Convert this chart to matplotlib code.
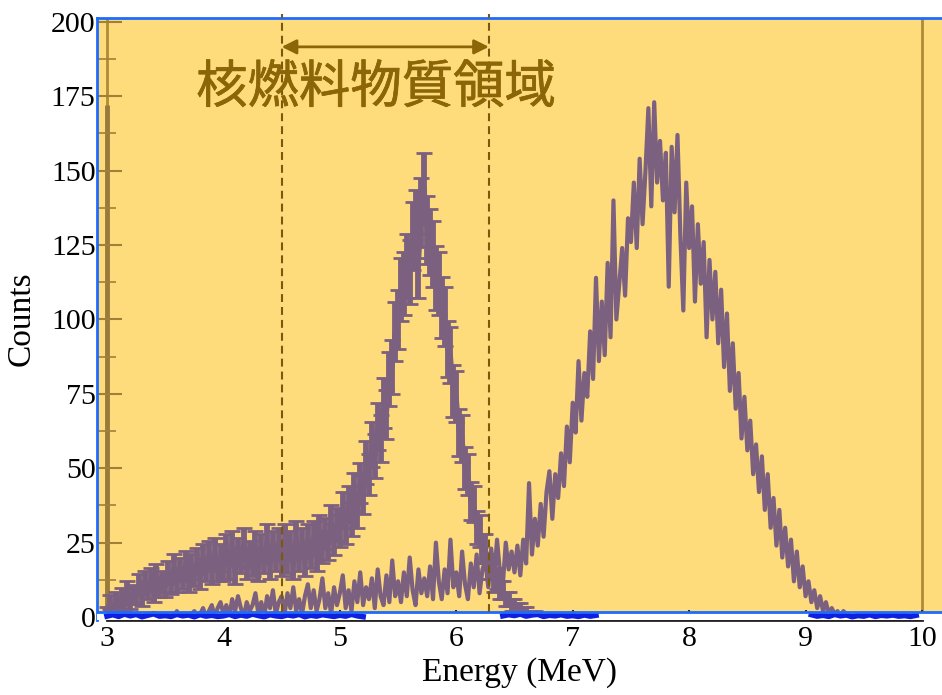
import numpy as np
import matplotlib
matplotlib.use('Agg')
import matplotlib.pyplot as plt
import matplotlib.patheffects as pe
from matplotlib.ticker import MultipleLocator

plt.rcParams['font.family'] = ['Liberation Serif', 'DejaVu Serif']

# spectrum with error bars (step 0.025 MeV from 3.0)
energy_a_start = 3.0
counts_a = [
    2, 5, 1, 6, 3, 7, 4, 9, 5, 8,
    7, 11, 6, 12, 9, 13, 8, 14, 10, 12,
    10, 15, 11, 17, 12, 16, 13, 18, 12, 17,
    14, 19, 13, 20, 16, 21, 15, 22, 16, 20,
    16, 23, 17, 24, 15, 22, 19, 25, 17, 21,
    18, 24, 16, 23, 19, 26, 17, 24, 20, 25,
    18, 26, 19, 24, 17, 27, 20, 25, 18, 26,
    21, 27, 20, 29, 23, 28, 24, 32, 26, 31,
    29, 36, 30, 38, 33, 42, 36, 45, 41, 52,
    48, 58, 54, 64, 60, 72, 68, 80, 84, 96,
    100, 110, 112, 118, 116, 128, 132, 118, 136, 144,
    130, 126, 122, 114, 112, 104, 101, 90, 88, 76,
    74, 62, 60, 50, 48, 39, 38, 30, 29, 23,
    23, 17, 17, 12, 13, 9, 9, 6, 6, 4,
    4, 3, 3, 2, 2, 1, 1, 1, 0.5, 0.5,
    0.5,
]

# second spectrum, plain line (step 0.025 MeV from 3.5)
energy_b_start = 3.5
counts_b = [
    0, 1, 0, 0, 2, 0, 1, 0, 0, 1,
    2, 0, 1, 3, 0, 2, 4, 0, 3, 5,
    1, 4, 0, 6, 2, 7, 3, 0, 5, 2,
    4, 8, 1, 5, 0, 7, 3, 9, 1, 5,
    7, 1, 8, 3, 10, 2, 6, 1, 7, 11,
    3, 9, 2, 6, 13, 3, 8, 1, 10, 4,
    8, 14, 3, 9, 2, 12, 5, 15, 4, 10,
    6, 13, 3, 16, 7, 4, 14, 5, 19, 7,
    12, 5, 15, 7, 20, 9, 4, 16, 8, 13,
    7, 17, 6, 25, 12, 6, 16, 8, 26, 10,
    15, 7, 22, 11, 6, 18, 10, 21, 8, 16,
    19, 10, 23, 13, 26, 15, 11, 25, 16, 22,
    15, 24, 14, 26, 18, 45, 21, 33, 24, 38,
    27, 42, 49, 33, 48, 40, 55, 44, 64, 52,
    72, 62, 86, 66, 82, 74, 96, 80, 114, 86,
    106, 88, 119, 94, 140, 100, 112, 124, 108, 134,
    126, 146, 124, 154, 132, 150, 171, 138, 173, 146,
    160, 140, 156, 111, 158, 136, 162, 128, 103, 146,
    124, 138, 106, 132, 112, 126, 94, 120, 100, 116,
    92, 110, 84, 102, 76, 92, 70, 82, 60, 74,
    56, 66, 48, 58, 42, 54, 36, 48, 30, 40,
    24, 36, 20, 30, 17, 26, 12, 22, 10, 17,
    7, 12, 5, 9, 3, 7, 2, 5, 1, 3,
    1, 2, 0, 2, 1, 0, 1, 0, 0, 0,
    0,
]

# low background trace only visible below the highlighted band (step 0.05 from 3.0)
nan = np.nan
counts_bg = [
    0.3, 0.8, 0.2, 1.0, 0.4, 0.9, 0.1, 0.6, 1.1, 0.3,
    0.5, 0.2, 0.9, 0.4, 0.7, 0.1, 0.8, 0.3, 0.6, 0.2,
    0.4, 0.9, 0.2, 0.7, 0.3, 1.0, 0.5, 0.1, 0.8, 0.4,
    0.2, 0.7, 0.4, 0.9, 0.1, 0.6, 0.3, 0.8, 0.5, 0.2,
    0.6, 0.3, 0.9, 0.4, 0.1, nan, nan, nan, nan, nan,
    nan, nan, nan, nan, nan, nan, nan, nan, nan, nan,
    nan, nan, nan, nan, nan, nan, nan, nan, 0.4, 0.8,
    0.5, 1.0, 0.3, 0.7, 0.9, 0.2, 0.6, 0.4, 0.8, 0.3,
    0.5, 0.2, 0.7, 0.3, 0.6, nan, nan, nan, nan, nan,
    nan, nan, nan, nan, nan, nan, nan, nan, nan, nan,
    nan, nan, nan, nan, nan, nan, nan, nan, nan, nan,
    nan, nan, nan, nan, nan, nan, nan, nan, nan, nan,
    nan, 0.8, 0.3, 0.6, 0.2, 0.9, 0.4, 0.7, 0.1, 0.5,
    0.3, 0.8, 0.2, 0.6, 0.4, 0.7, 0.3, 0.5, 0.2, 0.6,
    nan,
]

region = [4.5, 6.28]  # nuclear fuel material energy window
region_label = '核燃料物質領域'
edge_count = 172  # overflow bin at the left edge

yellow = '#FEDC7C'
purple = '#7C6080'
gold = '#8B6508'
band_floor = 1.7

ea = energy_a_start + 0.025 * np.arange(len(counts_a))
eb = energy_b_start + 0.025 * np.arange(len(counts_b))
ebg = 3.0 + 0.05 * np.arange(len(counts_bg))
ca = np.array(counts_a, dtype=float)

fig = plt.figure(figsize=(9.42, 6.95), dpi=100)
ax = fig.add_axes([97 / 942, 1 - 620 / 695, 845 / 942, 602 / 695])
ax.set_xlim(2.914, 10.172)
ax.set_ylim(-1.0, 201.3)

ax.axhspan(band_floor, 210, color=yellow, zorder=0, lw=0)

ax.errorbar(ea, ca, yerr=np.sqrt(ca), fmt='-', color=purple, lw=3.5,
            elinewidth=4.2, capsize=6, capthick=2, zorder=2)
ax.plot(eb, counts_b, color=purple, lw=3, zorder=2)

# white strip below the band with the blue trace
ax.axhspan(-5, band_floor, color='white', zorder=3, lw=0)
ax.plot(ebg, counts_bg, color='#1020E0', lw=4, zorder=4)
ax.axhline(band_floor, color='#1E6BFF', lw=2, zorder=5)

ax.axvline(3, color='#B08A35', lw=2, zorder=1)
ax.vlines(3, 0, edge_count, color='#9A7A3C', lw=3.5, zorder=1)
ax.axvline(10, color='#B08A35', lw=2, zorder=1)

for xr in region:
    ax.plot([xr, xr], [band_floor, 202.5], color='#7A5A0A', lw=1.5,
            dashes=(3.8, 2.4), zorder=6, clip_on=False)

ax.annotate('', xy=(region[0], 191.6), xytext=(region[1], 191.6),
            arrowprops=dict(arrowstyle='<|-|>', color=gold, lw=2,
                            mutation_scale=22, shrinkA=0, shrinkB=0),
            zorder=7)
# thin outline in the same colour thickens the regular weight a little
ax.text(5.31, 177.8, region_label, family=['Noto Sans CJK JP', 'DejaVu Sans'],
        fontsize=37, color=gold, ha='center', va='center', zorder=7,
        path_effects=[pe.withStroke(linewidth=0.5, foreground=gold)])

for side in ['left', 'top']:
    ax.spines[side].set_color('#1E6BFF')
    ax.spines[side].set_linewidth(2)
ax.spines['right'].set_visible(False)
ax.spines['bottom'].set_bounds(3, 10)
ax.spines['bottom'].set_color('#222222')
ax.spines['bottom'].set_linewidth(2)

ax.xaxis.set_major_locator(MultipleLocator(1))
ax.yaxis.set_major_locator(MultipleLocator(25))
ax.yaxis.set_minor_locator(MultipleLocator(12.5))
ax.tick_params(axis='y', which='major', direction='in', length=18, width=1.5,
               color='#A08038', labelsize=21.5, pad=1)
ax.tick_params(axis='y', which='minor', direction='in', length=14, width=1.2,
               color='#A08038')
ax.tick_params(axis='x', direction='in', length=7, width=1.5, color='#222222',
               labelsize=21.5, pad=4)

ax.set_xlabel('Energy (MeV)', fontsize=24, labelpad=4)
ax.set_ylabel('Counts', fontsize=24, labelpad=10)

fig.savefig('out.png', dpi=100)
